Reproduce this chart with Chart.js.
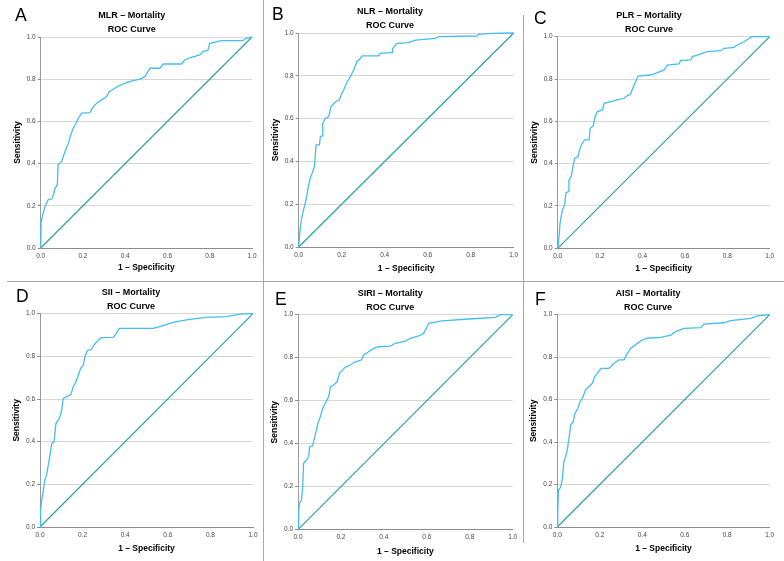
<!DOCTYPE html>
<html><head><meta charset="utf-8">
<script src="https://cdn.jsdelivr.net/npm/chart.js@4"></script>
<style>
html,body{margin:0;padding:0;background:#fff;width:784px;height:561px;overflow:hidden;position:relative}
canvas{position:absolute}
.letter{position:absolute;font-family:"Liberation Sans",Arial,sans-serif;font-size:17.5px;line-height:17px;color:#000}
.vl{position:absolute;width:1px;background:#a8a8a8;z-index:5}
.hl{position:absolute;height:1px;background:#a8a8a8;z-index:5}
</style></head><body>
<div class="vl" style="left:263px;top:0;height:561px"></div>
<div class="vl" style="left:523px;top:15px;height:528px"></div>
<div class="hl" style="left:7px;top:281px;width:777px"></div>
<script>
// ---- data ----
const panelLetters = ['A','B','C','D','E','F'];
const panelTitles = ['MLR – Mortality','NLR – Mortality','PLR – Mortality','SII – Mortality','SIRI – Mortality','AISI – Mortality'];
const subTitle = 'ROC Curve';
const xTitle = '1 – Specificity';
const yTitle = 'Sensitivity';
const tickLabels = ['0.0','0.2','0.4','0.6','0.8','1.0'];

const mlrFpr = [0,0.002,0.005,0.013,0.024,0.036,0.052,0.06,0.068,0.079,0.082,0.099,0.107,0.118,0.131,0.142,0.154,0.167,0.178,0.194,0.233,0.249,0.265,0.288,0.312,0.324,0.351,0.367,0.406,0.438,0.469,0.493,0.517,0.564,0.58,0.666,0.682,0.713,0.753,0.769,0.792,0.80,0.855,0.957,0.973,1];
const mlrTpr = [0,0.13,0.14,0.17,0.205,0.229,0.232,0.25,0.284,0.30,0.394,0.41,0.434,0.465,0.497,0.536,0.568,0.591,0.615,0.639,0.642,0.670,0.686,0.702,0.718,0.741,0.757,0.768,0.784,0.793,0.80,0.812,0.852,0.852,0.872,0.872,0.891,0.904,0.915,0.931,0.938,0.97,0.983,0.983,0.994,1];

const nlrFpr = [0,0.005,0.012,0.023,0.034,0.042,0.051,0.062,0.073,0.081,0.096,0.101,0.109,0.112,0.124,0.140,0.150,0.171,0.189,0.197,0.209,0.222,0.240,0.256,0.271,0.287,0.295,0.372,0.380,0.434,0.437,0.457,0.512,0.543,0.636,0.651,0.829,0.837,0.899,1];
const nlrTpr = [0,0.064,0.126,0.176,0.22,0.266,0.313,0.344,0.375,0.477,0.477,0.516,0.519,0.578,0.601,0.609,0.656,0.679,0.687,0.710,0.734,0.765,0.796,0.827,0.866,0.882,0.893,0.893,0.905,0.908,0.928,0.952,0.955,0.967,0.975,0.983,0.986,0.994,0.998,1];

const plrFpr = [0,0.005,0.011,0.022,0.033,0.039,0.05,0.053,0.064,0.072,0.080,0.096,0.105,0.116,0.127,0.148,0.153,0.167,0.176,0.187,0.211,0.219,0.25,0.281,0.313,0.332,0.344,0.360,0.379,0.439,0.470,0.502,0.517,0.572,0.580,0.627,0.635,0.659,0.706,0.769,0.785,0.832,0.847,0.879,0.895,0.915,1];
const plrTpr = [0,0.039,0.118,0.181,0.205,0.263,0.268,0.323,0.339,0.386,0.425,0.433,0.472,0.496,0.512,0.512,0.567,0.578,0.622,0.646,0.654,0.685,0.693,0.701,0.709,0.724,0.729,0.772,0.814,0.819,0.830,0.843,0.866,0.871,0.887,0.890,0.906,0.913,0.929,0.934,0.945,0.950,0.961,0.976,0.987,1.0,1];

const siiFpr = [0,0.003,0.008,0.016,0.023,0.031,0.039,0.047,0.055,0.066,0.075,0.091,0.102,0.109,0.125,0.145,0.156,0.169,0.180,0.191,0.203,0.211,0.222,0.242,0.253,0.266,0.289,0.344,0.359,0.372,0.531,0.563,0.609,0.641,0.703,0.781,0.875,0.938,1];
const siiTpr = [0,0.08,0.127,0.173,0.22,0.244,0.291,0.338,0.392,0.40,0.486,0.509,0.548,0.603,0.611,0.622,0.658,0.681,0.713,0.744,0.759,0.798,0.827,0.833,0.853,0.869,0.888,0.889,0.908,0.931,0.931,0.939,0.955,0.963,0.973,0.983,0.986,0.998,1];

const siriFpr = [0,0.003,0.006,0.016,0.022,0.026,0.039,0.05,0.054,0.068,0.076,0.084,0.093,0.104,0.115,0.127,0.143,0.151,0.166,0.182,0.193,0.205,0.220,0.244,0.267,0.295,0.306,0.329,0.352,0.376,0.430,0.453,0.5,0.523,0.562,0.585,0.601,0.609,0.671,0.795,0.919,0.943,1];
const siriTpr = [0,0.076,0.122,0.138,0.2,0.309,0.324,0.34,0.386,0.389,0.425,0.456,0.495,0.526,0.564,0.588,0.619,0.665,0.673,0.688,0.727,0.740,0.755,0.766,0.781,0.789,0.812,0.828,0.843,0.851,0.854,0.867,0.877,0.890,0.901,0.913,0.944,0.960,0.971,0.980,0.988,1.0,1];

const aisiFpr = [0,0.002,0.005,0.016,0.024,0.031,0.039,0.047,0.055,0.063,0.075,0.083,0.097,0.107,0.118,0.133,0.149,0.165,0.176,0.188,0.207,0.243,0.267,0.290,0.314,0.330,0.345,0.377,0.400,0.424,0.487,0.534,0.557,0.597,0.675,0.691,0.785,0.816,0.911,0.942,1];
const aisiTpr = [0,0.064,0.174,0.187,0.229,0.308,0.331,0.363,0.418,0.480,0.496,0.535,0.559,0.590,0.606,0.645,0.661,0.677,0.708,0.724,0.747,0.747,0.771,0.787,0.787,0.818,0.841,0.865,0.881,0.889,0.893,0.904,0.920,0.936,0.939,0.956,0.962,0.972,0.983,0.994,1];

const refX = [0,1];
const refY = [0,1];

const seriesFpr = [mlrFpr,nlrFpr,plrFpr,siiFpr,siriFpr,aisiFpr];
const seriesTpr = [mlrTpr,nlrTpr,plrTpr,siiTpr,siriTpr,aisiTpr];

// ---- layout (positions only) ----
const layoutCfg = [
  {left:0,  top:0,   w:263,h:281,L:40.7,Rc:252,  T:37,  B:248,  t1:15.7,tc:131.7,xt:268,  yt:18,  lx:15, ly:9},
  {left:263,top:0,   w:260,h:281,L:35.7,Rc:250.7,T:33,  B:247,  t1:12,  tc:127,  xt:268.3,yt:12.3,lx:272,ly:8},
  {left:523,top:0,   w:261,h:281,L:34.7,Rc:246.7,T:36.7,B:248.3,t1:15.7,tc:126,  xt:268.7,yt:11.7,lx:534,ly:12},
  {left:0,  top:281, w:263,h:280,L:40,  Rc:253,  T:32.7,B:246,  t1:12.3,tc:131,  xt:267.3,yt:16.7,lx:16, ly:290},
  {left:263,top:281, w:260,h:280,L:35,  Rc:249.7,T:33.7,B:248.7,t1:13,  tc:127.3,xt:270.7,yt:11.7,lx:275,ly:293},
  {left:523,top:281, w:261,h:280,L:34.3,Rc:246.7,T:33.7,B:246,  t1:14,  tc:125,  xt:267.3,yt:11,  lx:535,ly:293}
];

const FONT = '"Liberation Sans", Arial, Helvetica, sans-serif';
Chart.defaults.font.family = FONT;
const curveColor = '#43bdf0';
const refColor = '#2f9f9f';

function makePanel(i){
  const p = layoutCfg[i];
  const c = document.createElement('canvas');
  c.width = p.w; c.height = p.h;
  c.style.left = p.left+'px'; c.style.top = p.top+'px';
  c.style.width = p.w+'px'; c.style.height = p.h+'px';
  document.body.appendChild(c);

  const lt = document.createElement('div');
  lt.className = 'letter';
  lt.textContent = panelLetters[i];
  lt.style.left = p.lx + 'px';
  lt.style.top = (p.ly - 2.5) + 'px';
  document.body.appendChild(lt);

  const lh = 13.8;
  let pt = Math.min(p.t1 - lh/2, p.T - 2*lh);
  const pb = Math.max(0, p.T - pt - 2*lh);
  const pl = Math.max(0, 2*p.tc - p.Rc);
  const axLh = 8.5*1.2;

  new Chart(c, {
    type: 'line',
    data: {datasets: [
      {data: seriesFpr[i].map((x,k)=>({x:x, y:seriesTpr[i][k]})), borderColor: curveColor, borderWidth: 1.3,
       pointRadius: 0, tension: 0, fill: false, clip: 3},
      {data: refX.map((x,k)=>({x:x, y:refY[k]})), borderColor: refColor, borderWidth: 1.2,
       pointRadius: 0, tension: 0, fill: false, clip: 3}
    ]},
    options: {
      responsive: false, animation: false, devicePixelRatio: 1,
      layout: {padding: {left: pl, right: p.w - p.Rc, top: 0, bottom: 0}},
      plugins: {
        legend: {display: false}, tooltip: {enabled: false},
        title: {display: true, text: [panelTitles[i], subTitle], color: '#000',
          font: {family: FONT, size: 9, weight: 'bold', lineHeight: lh/9},
          padding: {top: pt, bottom: pb}}
      },
      scales: {
        x: {type: 'linear', min: 0, max: 1,
          afterFit: s => { s.height = p.h - p.B; },
          grid: {display: false, drawTicks: false},
          border: {display: true, color: '#8c8c8c', width: 1},
          ticks: {stepSize: 0.2, autoSkip: false, maxRotation: 0, padding: 4, color: '#444',
            font: {size: 6.5}, callback: (v, k) => tickLabels[k]},
          title: {display: true, text: xTitle, color: '#000', font: {size: 8.5, weight: 'bold'},
            padding: {top: 0, bottom: p.h - p.xt - axLh/2}}
        },
        y: {type: 'linear', min: 0, max: 1,
          afterFit: s => { s.width = p.L - pl; },
          grid: {display: true, color: '#d6d6d6', lineWidth: 1, drawTicks: true, tickLength: 3, tickColor: '#8c8c8c'},
          border: {display: true, color: '#9a9a9a', width: 1},
          ticks: {stepSize: 0.2, autoSkip: false, padding: 2, color: '#444',
            font: {size: 6.5}, callback: (v, k) => tickLabels[k]},
          title: {display: true, text: yTitle, color: '#000', font: {size: 8.5, weight: 'bold'},
            padding: {top: Math.max(0, p.yt - pl - axLh/2), bottom: 0}}
        }
      }
    }
  });
}
for (let i = 0; i < 6; i++) makePanel(i);
</script>
</body></html>
